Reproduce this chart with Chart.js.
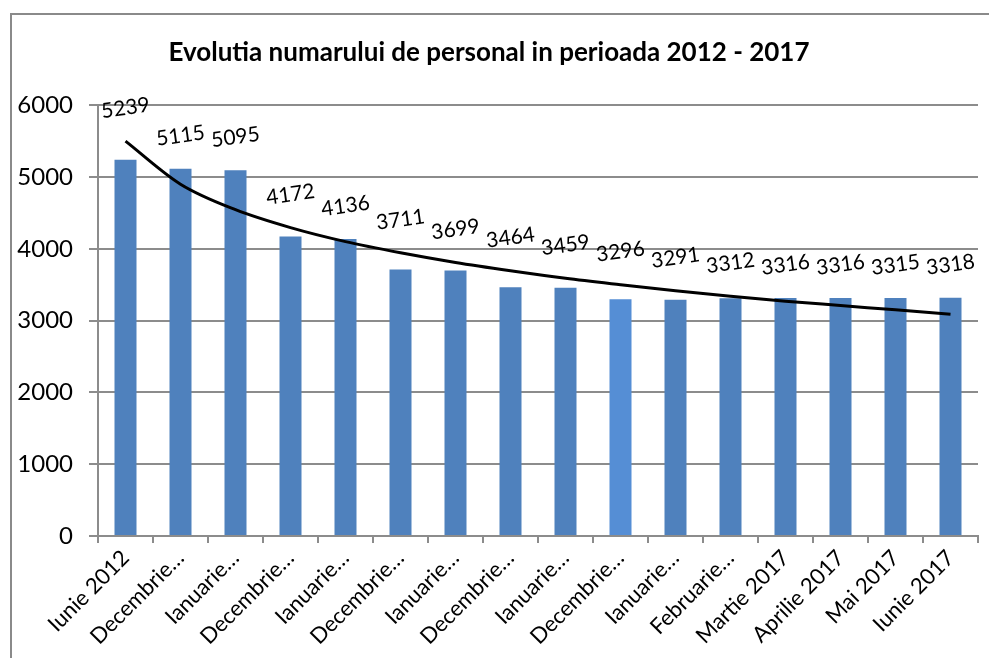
<!DOCTYPE html>
<html>
<head>
<meta charset="utf-8">
<script src="https://cdn.jsdelivr.net/npm/chart.js@4.4.1/dist/chart.umd.min.js"></script>
<style>
    html, body { margin: 0; padding: 0; background: #fff; }
    #wrap { position: relative; width: 989px; height: 658px; }
    #frame { position: absolute; left: 10px; top: 13px; right: 0; bottom: 0; border-top: 2px solid #8a8a8a; border-left: 2px solid #8a8a8a; }
    canvas { position: absolute; left: 0; top: 0; }
</style>
</head>
<body>
<div id="wrap">
    <div id="frame"></div>
    <canvas id="grafic" width="989" height="658"></canvas>
</div>
<script>
// Evolutia numarului de personal 2012 - 2017

const luni = ['Iunie 2012', 'Decembrie…', 'Ianuarie…', 'Decembrie…', 'Ianuarie…', 'Decembrie…',
    'Ianuarie…', 'Decembrie…', 'Ianuarie…', 'Decembrie…', 'Ianuarie…', 'Februarie…',
    'Martie 2017', 'Aprilie 2017', 'Mai 2017', 'Iunie 2017'];
const personal = [5239, 5115, 5095, 4172, 4136, 3711, 3699, 3464, 3459, 3296, 3291, 3312, 3316, 3316, 3315, 3318];
// linia de tendinta
const tendinta = [5500, 4900, 4545, 4295, 4100, 3945, 3810, 3695, 3590, 3500, 3415, 3340, 3270, 3210, 3150, 3090];
const valoriAxaY = [0, 1000, 2000, 3000, 4000, 5000, 6000];

const culoriBare = personal.map((v, i) => i === 9 ? '#558ed5' : '#4f81bd');
const FONT = 'Lato, "Open Sans", sans-serif';

// etichete valori, usor inclinate
const eticheteValori = {
    id: 'eticheteValori',
    afterDatasetsDraw(chart) {
        const bare = chart.getDatasetMeta(0).data;
        const linie = chart.getDatasetMeta(1).data;
        const ctx = chart.ctx;
        ctx.save();
        ctx.font = '21px ' + FONT;
        ctx.fillStyle = '#000';
        ctx.textAlign = 'center';
        ctx.textBaseline = 'middle';
        bare.forEach((bar, i) => {
            const y = Math.min(bar.y, linie[i].y) - 33;
            ctx.save();
            ctx.translate(bar.x, y);
            ctx.rotate(-8 * Math.PI / 180);
            ctx.fillText(String(personal[i]), 0, 0);
            ctx.restore();
        });
        ctx.restore();
    }
};

new Chart(document.getElementById('grafic').getContext('2d'), {
    type: 'bar',
    data: {
        labels: luni,
        datasets: [
            {
                label: 'Personal',
                data: personal,
                backgroundColor: culoriBare,
                barPercentage: 0.4,
                categoryPercentage: 1,
                order: 2
            },
            {
                type: 'line',
                label: 'Tendinta',
                data: tendinta,
                borderColor: '#000',
                borderWidth: 3,
                pointRadius: 0,
                cubicInterpolationMode: 'monotone',
                fill: false,
                order: 1
            }
        ]
    },
    options: {
        responsive: false,
        animation: false,
        layout: { padding: { left: 0, right: 11, top: 0, bottom: 0 } },
        plugins: {
            legend: { display: false },
            tooltip: { enabled: false },
            title: {
                display: true,
                text: 'Evolutia numarului de personal in perioada 2012 - 2017',
                color: '#000',
                font: { family: FONT, size: 26, weight: 'bold' },
                padding: { top: 37, bottom: 37 }
            }
        },
        scales: {
            x: {
                grid: { display: true, drawOnChartArea: false, offset: true, color: '#8c8c8c', tickLength: 7, lineWidth: 2 },
                border: { color: '#8c8c8c', width: 2 },
                ticks: {
                    color: '#000',
                    font: { family: FONT, size: 22 },
                    maxRotation: 45,
                    minRotation: 45,
                    autoSkip: false,
                    padding: 2
                },
                afterFit(scale) { scale.height = 122; }
            },
            y: {
                min: 0,
                max: 6000,
                afterBuildTicks(scale) { scale.ticks = valoriAxaY.map(v => ({ value: v })); },
                grid: { color: '#8c8c8c', lineWidth: 2, tickLength: 9 },
                border: { color: '#8c8c8c', width: 2 },
                ticks: {
                    color: '#000',
                    font: { family: FONT, size: 24 },
                    padding: 16,
                    callback: v => String(v)
                },
                afterFit(scale) { scale.width = 98; }
            }
        }
    },
    plugins: [eticheteValori]
});
</script>
</body>
</html>
